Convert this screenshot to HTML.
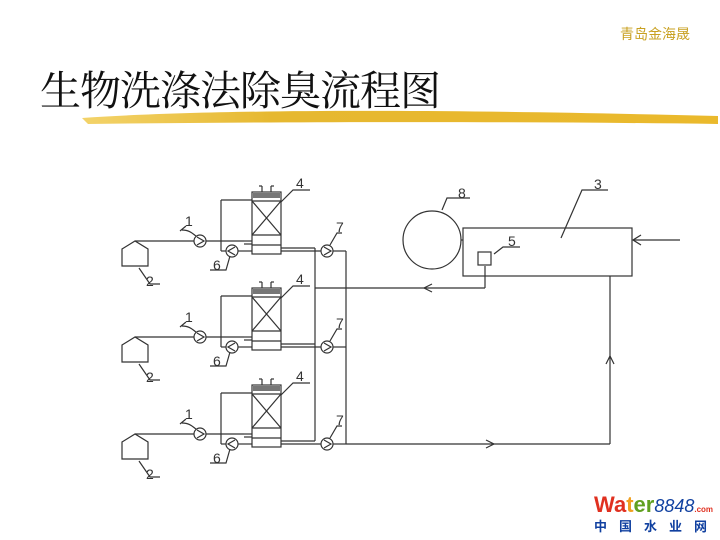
<!DOCTYPE html>
<html><head><meta charset="utf-8"><style>
body{margin:0;width:720px;height:540px;background:#fff;overflow:hidden;position:relative;font-family:"Liberation Sans","Noto Sans CJK SC",sans-serif}
.t{position:absolute;left:40px;top:58px;font-family:"Liberation Serif","Noto Serif CJK SC",serif;font-size:41px;color:#111;letter-spacing:-1px}
.b{position:absolute;right:30px;top:24px;font-size:14px;color:#c8a020}
</style></head><body>
<div class="b">青岛金海晟</div>
<div class="t">生物洗涤法除臭流程图</div>
<svg width="720" height="540" style="position:absolute;left:0;top:0">
<defs>
<linearGradient id="g" x1="0" x2="1"><stop offset="0" stop-color="#f3d36a"/><stop offset="0.3" stop-color="#e6b830"/><stop offset="1" stop-color="#eab92c"/></linearGradient>
<g id="u" fill="none" stroke="#333" stroke-width="1.2">
<polygon points="122,249 135,241 148,249 148,266 122,266" fill="#fff"/>
<line x1="135" y1="241" x2="194" y2="241"/>
<circle cx="200" cy="241" r="6" fill="#fff"/><path d="M197,237 L204,241 L197,245"/>
<line x1="206" y1="241" x2="244" y2="241"/>
<line x1="244" y1="241" x2="252" y2="241"/><line x1="244" y1="244" x2="252" y2="244"/>
<rect x="252" y="192" width="29" height="62" fill="#fff"/>
<line x1="262" y1="186" x2="262" y2="192"/><line x1="271" y1="186" x2="271" y2="192"/><line x1="259" y1="186" x2="262" y2="186"/><line x1="271" y1="186" x2="274" y2="186"/>
<rect x="253" y="193" width="27" height="5" fill="#777" stroke="none"/>
<line x1="252" y1="201" x2="281" y2="201"/>
<line x1="252" y1="235" x2="281" y2="235"/><line x1="252" y1="201" x2="281" y2="235"/><line x1="281" y1="201" x2="252" y2="235"/>
<line x1="252" y1="245" x2="281" y2="245"/>
<line x1="221" y1="200" x2="252" y2="200"/><line x1="221" y1="200" x2="221" y2="251"/><line x1="221" y1="251" x2="226" y2="251"/>
<circle cx="232" cy="251" r="6" fill="#fff"/><path d="M235,247 L228,251 L235,255"/>
<line x1="238" y1="251" x2="252" y2="251"/>
<line x1="281" y1="248" x2="315" y2="248"/>
<line x1="281" y1="251" x2="321" y2="251"/>
<circle cx="327" cy="251" r="6" fill="#fff"/><path d="M324,247 L331,251 L324,255"/>
<line x1="333" y1="251" x2="346" y2="251"/>
<path d="M182,230 C190,230 193,234 196,236"/><path d="M180,231 L186,226"/>
<path d="M230,256 L226,270 L210,270"/>
<path d="M139,268 L150,284 L160,284"/>
<path d="M281,202 L293,190 L310,190"/>
<path d="M330,245 L337,233 L342,233"/>
</g>
</defs>
<path d="M82,118 C200,110 400,108 718,116 L718,124 C500,121 250,122 88,124 Z" fill="url(#g)"/>
<use href="#u"/><use href="#u" y="96"/><use href="#u" y="193"/>
<g fill="none" stroke="#333" stroke-width="1.2">
<line x1="315" y1="248" x2="315" y2="441"/>
<line x1="346" y1="251" x2="346" y2="444"/>
<line x1="315" y1="288" x2="485" y2="288"/><line x1="485" y1="288" x2="485" y2="266"/>
<path d="M432,284 L424,288 L432,292"/>
<line x1="346" y1="444" x2="610" y2="444"/><path d="M486,440 L494,444 L486,448"/>
<line x1="610" y1="444" x2="610" y2="276"/><path d="M606,364 L610,356 L614,364"/>
<rect x="463" y="228" width="169" height="48"/>
<circle cx="432" cy="240" r="29"/><line x1="461" y1="240" x2="463" y2="240"/>
<rect x="478" y="252" width="13" height="13"/>
<line x1="680" y1="240" x2="633" y2="240"/><path d="M641,235 L633,240 L641,245"/>
<path d="M561,238 L582,190 L608,190"/>
<path d="M494,254 L503,247 L520,247"/>
<path d="M442,210 L447,198 L470,198"/>
</g>
<g font-family="Liberation Sans,sans-serif" font-size="14" fill="#333">
<text x="185" y="226">1</text><text x="185" y="322">1</text><text x="185" y="419">1</text>
<text x="146" y="286">2</text><text x="146" y="382">2</text><text x="146" y="479">2</text>
<text x="213" y="270">6</text><text x="213" y="366">6</text><text x="213" y="463">6</text>
<text x="296" y="188">4</text><text x="296" y="284">4</text><text x="296" y="381">4</text>
<text x="336" y="232">7</text><text x="336" y="328">7</text><text x="336" y="425">7</text>
<text x="594" y="189">3</text><text x="508" y="246">5</text><text x="458" y="198">8</text>
</g>
<text x="594" y="512" font-family="Liberation Sans,sans-serif" font-weight="bold" font-size="22"><tspan fill="#e03020">Wa</tspan><tspan fill="#f0a020">t</tspan><tspan fill="#60a020">er</tspan><tspan fill="#1040a0" font-style="italic" font-weight="normal" font-size="18">8848</tspan><tspan fill="#e03020" font-size="8">.com</tspan></text>
<text x="594" y="531" font-family="Noto Sans CJK SC,sans-serif" font-weight="bold" font-size="13" fill="#1040a0" letter-spacing="12">中国水业网</text>
</svg>
</body></html>
